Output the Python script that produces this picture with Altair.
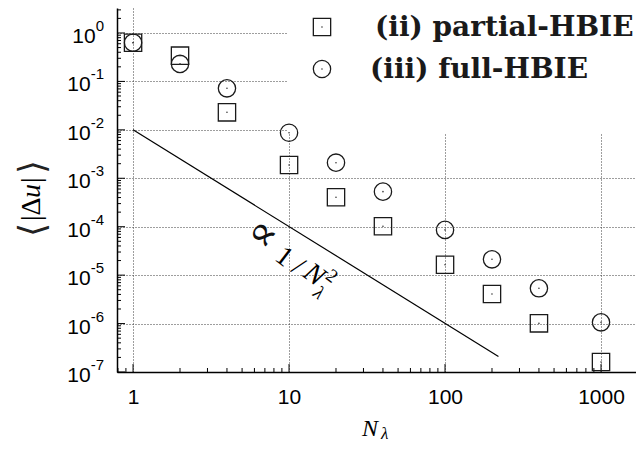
import altair as alt
import pandas as pd

# ---------------- data ----------------
N = [1, 2, 4, 10, 20, 40, 100, 200, 400, 1000]
partial_hbie = [0.63, 0.34, 0.023, 1.88e-3, 4.05e-4, 1.02e-4, 1.64e-5, 4.08e-6, 1.01e-6, 1.61e-7]
full_hbie = [0.63, 0.23, 0.072, 8.7e-3, 2.1e-3, 5.3e-4, 8.6e-5, 2.12e-5, 5.35e-6, 1.06e-6]
ref_N = [1, 220]
ref_val = [1e-2, 2.1e-7]
x_ticks = [1, 10, 100, 1000]
y_exponents = [0, -1, -2, -3, -4, -5, -6, -7]
legend_labels = ["(ii) partial-HBIE", "(iii) full-HBIE"]

# ---------------- layout ----------------
W, H = 519, 364
X_DOM = [0.789, 1676]
Y_DOM = [1e-7, 3.28]
SANS = "Liberation Sans, Arial, Helvetica"
SERIF = "Liberation Serif, DejaVu Serif"
MSTROKE = "#1a1a1a"

xscale = alt.Scale(type="log", domain=X_DOM, nice=False)
yscale = alt.Scale(type="log", domain=Y_DOM, nice=False)

GRID = dict(grid=True, gridColor="#3d3d3d", gridDash=[1, 2], gridWidth=1, gridOpacity=1)
x_axis = alt.Axis(values=x_ticks, labelExpr="'' + datum.value", labelFont=SANS,
                  labelFontSize=21, labelColor="black", labelPadding=14,
                  labelFlush=False, labelOverlap=False, ticks=False, tickSize=0,
                  domainColor="black", domainWidth=1.5, **GRID)
y_decades = [10.0 ** e for e in y_exponents]
y_axis = alt.Axis(values=y_decades, labels=False, ticks=False, tickSize=0,
                  domainColor="black", domainWidth=1.5, **GRID)


def X(field):
    return alt.X(f"{field}:Q", scale=xscale, axis=x_axis, title=None)


def Y(field):
    return alt.Y(f"{field}:Q", scale=yscale, axis=y_axis, title=None)


ONE = pd.DataFrame({"k": [0]})


def label(txt, x, y, **kw):
    return alt.Chart(ONE).mark_text(text=txt, **kw).encode(x=alt.value(x), y=alt.value(y))


df_p = pd.DataFrame({"N": N, "v": partial_hbie})
df_f = pd.DataFrame({"N": N, "v": full_hbie})
df_ref = pd.DataFrame({"N": ref_N, "v": ref_val})

# minor / major tick positions (inward ticks)
x_minor = [m * 10.0 ** k for k in range(-1, 4) for m in range(2, 10)
           if X_DOM[0] <= m * 10.0 ** k <= X_DOM[1]]
y_minor = [m * 10.0 ** k for k in range(-7, 1) for m in range(2, 10)
           if m * 10.0 ** k <= Y_DOM[1]]

layers = []

# legend background (hides grid)
layers.append(alt.Chart(ONE).mark_rect(color="white").encode(
    x=alt.value(170), x2=alt.value(W), y=alt.value(0), y2=alt.value(126)))

# ticks
layers.append(alt.Chart(pd.DataFrame({"t": x_ticks})).mark_rule(color="black", strokeWidth=1).encode(
    x=X("t"), y=alt.value(H), y2=alt.value(H - 8)))
layers.append(alt.Chart(pd.DataFrame({"t": x_minor})).mark_rule(color="black", strokeWidth=1).encode(
    x=X("t"), y=alt.value(H), y2=alt.value(H - 4)))
layers.append(alt.Chart(pd.DataFrame({"t": y_decades})).mark_rule(color="black", strokeWidth=1).encode(
    y=Y("t"), x=alt.value(0), x2=alt.value(8)))
layers.append(alt.Chart(pd.DataFrame({"t": y_minor})).mark_rule(color="black", strokeWidth=1).encode(
    y=Y("t"), x=alt.value(0), x2=alt.value(4)))

# reference slope line
layers.append(alt.Chart(df_ref).mark_line(color="black", strokeWidth=1.2).encode(x=X("N"), y=Y("v")))

# data markers
layers.append(alt.Chart(df_p).mark_point(shape="square", size=300, filled=False, stroke=MSTROKE,
                                         strokeWidth=1.3, opacity=1).encode(x=X("N"), y=Y("v")))
layers.append(alt.Chart(df_f).mark_point(shape="circle", size=300, filled=False, stroke=MSTROKE,
                                         strokeWidth=1.3, opacity=1).encode(x=X("N"), y=Y("v")))
layers.append(alt.Chart(df_p).mark_circle(size=2.5, color="#333", opacity=1).encode(x=X("N"), y=Y("v")))
layers.append(alt.Chart(df_f).mark_circle(size=2.5, color="#333", opacity=1).encode(x=X("N"), y=Y("v")))

# y tick labels: 10^e
df_yl = pd.DataFrame({"v": y_decades, "e": [str(e) for e in y_exponents]})
layers.append(alt.Chart(df_yl[df_yl["e"] == "0"]).mark_text(
    text="10", align="right", baseline="alphabetic", dy=10, font=SANS, fontSize=21, color="black").encode(
    x=alt.value(-13 - 15 * 0.556), y=Y("v")))
layers.append(alt.Chart(df_yl[df_yl["e"] != "0"]).mark_text(
    text="10", align="right", baseline="alphabetic", dy=10, font=SANS, fontSize=21, color="black").encode(
    x=alt.value(-13 - 15 * (0.556 + 0.333)), y=Y("v")))
layers.append(alt.Chart(df_yl).mark_text(
    align="right", baseline="alphabetic", dy=-2, font=SANS, fontSize=15, color="black").encode(
    x=alt.value(-13), y=Y("v"), text="e:N"))

# y title  <|Δu|>
layers.append(label("⟨", -73, 222, angle=270, align="center", baseline="alphabetic",
                    font="DejaVu Serif", fontSize=36, color="#222"))
layers.append(label("|Δ", -77, 213, angle=270, align="left", baseline="alphabetic",
                    font="Liberation Serif", fontSize=28, color="black"))
layers.append(label("u", -77, 190, angle=270, align="left", baseline="alphabetic",
                    font="Liberation Serif", fontSize=28, fontStyle="italic", color="black"))
layers.append(label("|", -77, 175, angle=270, align="left", baseline="alphabetic",
                    font="Liberation Serif", fontSize=28, color="black"))
layers.append(label("⟩", -73, 159, angle=270, align="center", baseline="alphabetic",
                    font="DejaVu Serif", fontSize=36, color="#222"))

# x title N_λ
layers.append(label("N", 245, 428, align="left", baseline="alphabetic", font=SERIF,
                    fontSize=24, fontStyle="italic", color="black"))
layers.append(label("λ", 264, 431, align="left", baseline="alphabetic", font=SERIF,
                    fontSize=17, fontStyle="italic", color="black"))

# slope annotation  ∝ 1/N_λ^2
ANG = 37
layers.append(label("∝", 146, 226, angle=ANG, align="center", baseline="middle", font=SERIF,
                    fontSize=42, color="#111"))
layers.append(label("1", 167, 249, angle=ANG, align="center", baseline="middle", font=SERIF, fontSize=28, color="black"))
layers.append(label("/", 181, 259, angle=ANG, align="center", baseline="middle", font=SERIF, fontSize=28, color="black"))
layers.append(label("N", 197, 267, angle=ANG, align="center", baseline="middle", font=SERIF, fontSize=28,
                    fontStyle="italic", color="black"))
layers.append(label("2", 215, 268, angle=ANG, align="center", baseline="middle", font=SERIF, fontSize=19, color="black"))
layers.append(label("λ", 202, 285, angle=ANG, align="center", baseline="middle", font=SERIF, fontSize=19,
                    fontStyle="italic", color="black"))

# legend
layers.append(alt.Chart(ONE).mark_point(shape="square", size=300, filled=False, stroke=MSTROKE,
                                        strokeWidth=1.3, opacity=1).encode(x=alt.value(205), y=alt.value(19)))
layers.append(alt.Chart(ONE).mark_point(shape="circle", size=300, filled=False, stroke=MSTROKE,
                                        strokeWidth=1.3, opacity=1).encode(x=alt.value(205), y=alt.value(61)))
layers.append(alt.Chart(ONE).mark_circle(size=2.5, color="#333", opacity=1).encode(x=alt.value(205), y=alt.value(19)))
layers.append(alt.Chart(ONE).mark_circle(size=2.5, color="#333", opacity=1).encode(x=alt.value(205), y=alt.value(61)))
layers.append(label(legend_labels[0], 258, 28, align="left", baseline="alphabetic", font="DejaVu Serif",
                    fontSize=28, fontWeight="bold", color="#1a1a1a"))
layers.append(label(legend_labels[1], 253, 70, align="left", baseline="alphabetic", font="DejaVu Serif",
                    fontSize=28, fontWeight="bold", color="#1a1a1a"))

chart = alt.layer(*layers).properties(
    width=W, height=H,
    autosize=alt.AutoSizeParams(type="none"),
    padding={"left": 109, "top": 0, "right": 0, "bottom": 70},
    background="white",
).configure_view(stroke="transparent")

chart.save("out.html", embed_options={"renderer": "svg", "actions": False})
